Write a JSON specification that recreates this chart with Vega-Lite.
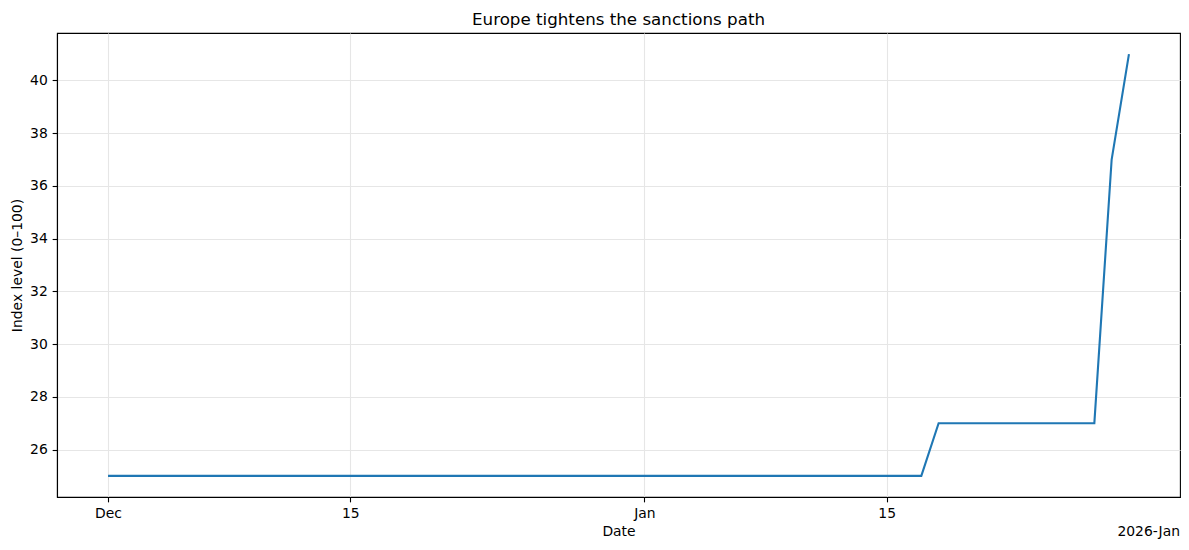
{
  "$schema": "https://vega.github.io/schema/vega-lite/v6.json",
  "width": 1123,
  "height": 464,
  "autosize": {"type": "none"},
  "padding": {"left": 57, "top": 33, "right": 9, "bottom": 53},
  "background": "white",
  "title": {"text": "Europe tightens the sanctions path", "font": "DejaVu Sans", "fontSize": 16.7, "fontWeight": "normal", "color": "black", "anchor": "middle", "baseline": "alphabetic", "offset": 8, "dy": 17},
  "config": {
    "font": "DejaVu Sans",
    "view": {"stroke": "black", "strokeWidth": 1.1},
    "axis": {
      "domainColor": "black", "domainWidth": 1.1,
      "tickColor": "black", "tickWidth": 1.1, "tickSize": 4.86,
      "labelColor": "black", "labelFontSize": 13.9, "labelPadding": 4.86, "labelFont": "DejaVu Sans",
      "titleColor": "black", "titleFontSize": 13.9, "titleFontWeight": "normal", "titleFont": "DejaVu Sans",
      "gridColor": "#e6e6e6", "gridWidth": 1.1
    }
  },
  "data": {"values": [
    {"date": "2025-12-01", "value": 25}, {"date": "2025-12-02", "value": 25}, {"date": "2025-12-03", "value": 25},
    {"date": "2025-12-04", "value": 25}, {"date": "2025-12-05", "value": 25}, {"date": "2025-12-06", "value": 25},
    {"date": "2025-12-07", "value": 25}, {"date": "2025-12-08", "value": 25}, {"date": "2025-12-09", "value": 25},
    {"date": "2025-12-10", "value": 25}, {"date": "2025-12-11", "value": 25}, {"date": "2025-12-12", "value": 25},
    {"date": "2025-12-13", "value": 25}, {"date": "2025-12-14", "value": 25}, {"date": "2025-12-15", "value": 25},
    {"date": "2025-12-16", "value": 25}, {"date": "2025-12-17", "value": 25}, {"date": "2025-12-18", "value": 25},
    {"date": "2025-12-19", "value": 25}, {"date": "2025-12-20", "value": 25}, {"date": "2025-12-21", "value": 25},
    {"date": "2025-12-22", "value": 25}, {"date": "2025-12-23", "value": 25}, {"date": "2025-12-24", "value": 25},
    {"date": "2025-12-25", "value": 25}, {"date": "2025-12-26", "value": 25}, {"date": "2025-12-27", "value": 25},
    {"date": "2025-12-28", "value": 25}, {"date": "2025-12-29", "value": 25}, {"date": "2025-12-30", "value": 25},
    {"date": "2025-12-31", "value": 25}, {"date": "2026-01-01", "value": 25}, {"date": "2026-01-02", "value": 25},
    {"date": "2026-01-03", "value": 25}, {"date": "2026-01-04", "value": 25}, {"date": "2026-01-05", "value": 25},
    {"date": "2026-01-06", "value": 25}, {"date": "2026-01-07", "value": 25}, {"date": "2026-01-08", "value": 25},
    {"date": "2026-01-09", "value": 25}, {"date": "2026-01-10", "value": 25}, {"date": "2026-01-11", "value": 25},
    {"date": "2026-01-12", "value": 25}, {"date": "2026-01-13", "value": 25}, {"date": "2026-01-14", "value": 25},
    {"date": "2026-01-15", "value": 25}, {"date": "2026-01-16", "value": 25}, {"date": "2026-01-17", "value": 25},
    {"date": "2026-01-18", "value": 27}, {"date": "2026-01-19", "value": 27}, {"date": "2026-01-20", "value": 27},
    {"date": "2026-01-21", "value": 27}, {"date": "2026-01-22", "value": 27}, {"date": "2026-01-23", "value": 27},
    {"date": "2026-01-24", "value": 27}, {"date": "2026-01-25", "value": 27}, {"date": "2026-01-26", "value": 27},
    {"date": "2026-01-27", "value": 27}, {"date": "2026-01-28", "value": 37}, {"date": "2026-01-29", "value": 41}
  ]},
  "layer": [
    {
      "mark": {"type": "line", "color": "#1f77b4", "strokeWidth": 2.1},
      "encoding": {
        "x": {
          "field": "date", "type": "temporal",
          "scale": {"type": "utc", "domain": [
            {"year": 2025, "month": "nov", "date": 28, "hours": 1, "minutes": 12, "utc": true},
            {"year": 2026, "month": "jan", "date": 31, "hours": 22, "minutes": 48, "utc": true}
          ]},
          "axis": {
            "title": "Date", "titlePadding": 4, "grid": true,
            "values": [
              {"year": 2025, "month": "dec", "date": 1, "utc": true},
              {"year": 2025, "month": "dec", "date": 15, "utc": true},
              {"year": 2026, "month": "jan", "date": 1, "utc": true},
              {"year": 2026, "month": "jan", "date": 15, "utc": true}
            ],
            "labelExpr": "utcdate(datum.value) == 1 ? utcFormat(datum.value, '%b') : utcFormat(datum.value, '%-d')"
          }
        },
        "y": {
          "field": "value", "type": "quantitative",
          "scale": {"domain": [24.2, 41.8], "nice": false, "zero": false},
          "axis": {"title": "Index level (0–100)", "titlePadding": 5, "grid": true, "values": [26, 28, 30, 32, 34, 36, 38, 40]}
        }
      }
    },
    {
      "data": {"values": [{"label": "2026-Jan"}]},
      "mark": {"type": "text", "align": "right", "baseline": "middle", "fontSize": 13.9, "font": "DejaVu Sans", "color": "black"},
      "encoding": {
        "x": {"datum": {"year": 2026, "month": "jan", "date": 31, "hours": 22, "minutes": 48, "utc": true}, "type": "temporal"},
        "y": {"datum": 22.87, "type": "quantitative"},
        "text": {"field": "label", "type": "nominal"}
      }
    }
  ]
}
